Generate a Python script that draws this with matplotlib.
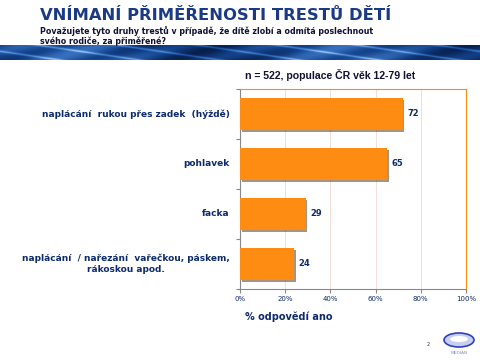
import numpy as np
import matplotlib.pyplot as plt
from matplotlib.patches import Ellipse
from matplotlib.colors import LinearSegmentedColormap
import matplotlib.patheffects as pe

categories = [
    "naplácání  rukou přes zadek  (hýždě)",
    "pohlavek",
    "facka",
    "naplácání  / nařezání  vařečkou, páskem,\nrákoskou apod.",
]
values = [72, 65, 29, 24]
xticks = [0, 20, 40, 60, 80, 100]
xtick_labels = ["0%", "20%", "40%", "60%", "80%", "100%"]

navy = "#0d2a6b"
orange = "#ff8c12"

fig = plt.figure(figsize=(4.8, 3.6), dpi=100)
fig.patch.set_facecolor("white")

# header text
fig.text(40 / 480, 1 - 15 / 360, "VNÍMANÍ PŘIMĚŘENOSTI TRESTŮ DĚTÍ",
         fontsize=11.8, fontweight="bold", color="#1a3a86", va="center", ha="left")
fig.text(40 / 480, 1 - 36 / 360,
         "Považujete tyto druhy trestů v případě, že dítě zlobí a odmítá poslechnout\nsvého rodiče, za přiměřené?",
         fontsize=5.7, fontweight="bold", color="#111133", va="center", ha="left",
         linespacing=1.1)

# blue banner strip
ban = fig.add_axes([0, 1 - 60 / 360, 1, 15 / 360])
cmap = LinearSegmentedColormap.from_list("ban", ["#06163a", "#123f86", "#3b78c8", "#a8c8f0"])
xs = np.linspace(0, 1, 480)
ys = np.linspace(0, 1, 15)[:, None]
grad = 0.35 + 0.15 * np.sin(xs * 11)[None, :] + 0.12 * np.sin(xs * 37 + ys * 4)
grad = grad + 0.35 * np.exp(-((xs[None, :] * 30 - ys * 6) % 5 - 2.5) ** 2 * 4)
ban.imshow(grad, aspect="auto", cmap=cmap, vmin=0, vmax=1, extent=[0, 1, 0, 1])
ban.axis("off")

# main chart
ax = fig.add_axes([240 / 480, 1 - 289 / 360, 226 / 480, 200 / 360])
y = np.arange(len(categories))
ax.barh(y, values, height=0.64, color=orange, edgecolor="none", zorder=3,
        path_effects=[pe.SimplePatchShadow(offset=(1.2, -1.2), alpha=0.5),
                      pe.Normal()])
for yi, v in zip(y, values):
    ax.text(v + 2, yi, str(v), va="center", ha="left", fontsize=6,
            fontweight="bold", color=navy)

ax.set_ylim(len(categories) - 0.5, -0.5)
ax.set_xlim(0, 100)
ax.set_xticks(xticks)
ax.set_xticklabels(xtick_labels, fontsize=5, color=navy)
ax.set_yticks(np.arange(len(categories) + 1) - 0.5)
ax.set_yticklabels([])
ax.tick_params(axis="y", length=3, color="#888888")
ax.tick_params(axis="x", length=3, color="#888888", pad=2)
for yi, c in zip(y, categories):
    ax.text(-0.045, yi, c, transform=ax.get_yaxis_transform(), ha="right",
            va="center", fontsize=6.5, fontweight="bold", color=navy,
            multialignment="center", linespacing=1.3)
ax.grid(axis="x", color="#f3d8d0", linewidth=0.6, zorder=0)
ax.spines["top"].set_color(orange)
ax.spines["right"].set_color(orange)
ax.spines["left"].set_color("#888888")
ax.spines["bottom"].set_color("#888888")

fig.text(245 / 480, 1 - 75 / 360, "n = 522, populace ČR věk 12-79 let",
         fontsize=7.6, fontweight="bold", color="#111133", va="center", ha="left",
         family="Liberation Sans")
fig.text(245 / 480, 1 - 317 / 360, "% odpovědí ano",
         fontsize=7, fontweight="bold", color=navy, va="center", ha="left")

# page number and logo
fig.text(428 / 480, 1 - 344 / 360, "2", fontsize=3.5, color="#333333",
         va="center", ha="center")
fig.add_artist(Ellipse((459 / 480, 1 - 340 / 360), 30 / 480, 14 / 360,
                       facecolor="#c8d0f0", edgecolor="#3040c0", linewidth=1.2))
fig.add_artist(Ellipse((459 / 480, 1 - 339 / 360), 18 / 480, 6 / 360,
                       facecolor="white", edgecolor="none"))
fig.text(459 / 480, 1 - 353 / 360, "MEDIAN", fontsize=3.2, color="#8090c0",
         va="center", ha="center")

fig.savefig("out.png", dpi=100)
